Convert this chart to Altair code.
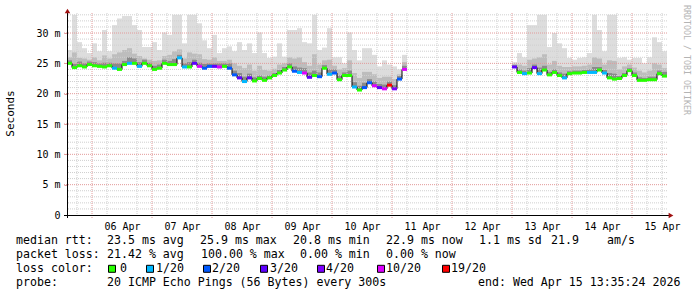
import json
import altair as alt
import pandas as pd

# ---------------- data (2-hour bins, hours since 05 Apr 00:00) ----------------
T0 = 14          # first bin starts 05 Apr 14:00
BIN = 2          # hours per bin
GAP = 21         # bins without data (11 Apr 06:00 -> 13 Apr 00:00)

median_seg1 = [25.0, 24.3, 24.6, 24.4, 24.8, 24.6, 24.5, 24.4, 24.6, 24.2,
               24.0, 24.8, 25.0, 25.0, 24.5, 25.0, 24.6, 24.0, 24.2, 25.0,
               24.8, 24.8, 25.9, 24.4, 24.4, 25.0, 24.5, 24.2, 24.5, 24.5,
               24.4, 24.5, 24.2, 23.1, 22.6, 22.0, 22.6, 22.1, 22.5, 22.2,
               22.6, 23.0, 23.4, 23.9, 24.4, 23.7, 23.5, 23.4, 22.7, 23.0,
               22.8, 24.2, 23.2, 23.4, 22.3, 23.0, 23.0, 21.1, 20.6, 21.0,
               21.8, 21.3, 21.0, 20.8, 21.4, 20.8, 22.4, 24.0]
median_seg2 = [24.4, 23.5, 23.3, 23.4, 24.3, 23.3, 23.9, 23.1, 23.5, 23.0,
               22.6, 23.3, 23.4, 23.4, 23.5, 23.5, 23.5, 23.9, 23.4, 22.6,
               22.4, 22.5, 23.0, 23.8, 23.0, 22.2, 22.2, 22.3, 22.3, 23.3, 22.9]

max_seg1 = [27.2, 33.0, 28.5, 27.5, 26.7, 28.3, 27.0, 30.5, 27.0, 31.3,
            32.4, 32.8, 32.8, 31.3, 30.5, 27.7, 27.7, 28.5, 27.2, 30.1,
            29.7, 33.0, 33.0, 28.3, 33.0, 33.0, 31.6, 28.8, 27.5, 29.7,
            26.7, 27.5, 27.8, 27.0, 28.5, 27.2, 28.3, 26.7, 30.1, 26.7,
            25.9, 26.1, 28.3, 26.1, 30.5, 30.5, 30.8, 28.5, 28.3, 33.0,
            27.2, 27.6, 30.8, 26.0, 26.0, 25.0, 30.1, 27.2, 25.5, 27.5,
            27.5, 26.4, 24.5, 25.5, 24.8, 24.5, 24.0, 26.4]
max_seg2 = [25.2, 26.7, 26.0, 31.3, 31.3, 33.0, 33.0, 27.7, 30.0, 28.3,
            27.5, 25.9, 25.6, 25.9, 26.0, 26.7, 33.0, 30.5, 27.0, 33.0,
            33.0, 25.9, 26.0, 25.6, 25.9, 25.9, 25.0, 26.0, 29.3, 28.5, 27.0]

p75_seg1 = [26.0, 26.8, 25.9, 25.8, 25.6, 26.0, 25.5, 26.3, 25.8, 26.5,
            26.8, 27.2, 27.5, 26.6, 26.2, 25.8, 25.6, 25.4, 25.5, 26.2,
            26.4, 27.0, 27.3, 25.8, 26.8, 26.6, 26.5, 25.7, 25.6, 26.0,
            25.4, 25.4, 25.6, 25.0, 24.6, 24.2, 24.8, 23.8, 24.6, 23.9,
            23.8, 24.1, 24.8, 25.0, 26.0, 25.8, 26.0, 25.2, 24.6, 26.5,
            24.8, 25.5, 25.6, 24.6, 24.0, 24.2, 25.5, 23.4, 22.6, 23.6,
            23.6, 23.2, 22.6, 22.8, 22.8, 22.4, 23.2, 25.2]
p75_seg2 = [24.9, 24.8, 24.6, 25.6, 25.8, 26.0, 26.5, 24.8, 25.4, 24.6,
            24.4, 24.4, 24.5, 24.5, 24.6, 24.8, 26.0, 25.8, 24.8, 25.5,
            25.4, 24.0, 24.5, 24.8, 24.3, 23.8, 23.5, 23.8, 25.0, 24.8, 24.2]

p55_seg1 = [25.5, 24.9, 25.3, 25.0, 25.3, 25.2, 25.0, 25.1, 25.1, 25.0,
            25.0, 25.4, 26.0, 25.8, 25.2, 25.6, 25.1, 24.6, 24.8, 25.6,
            25.4, 25.7, 26.4, 25.0, 25.2, 25.6, 25.1, 24.9, 25.0, 25.0,
            25.0, 25.0, 25.0, 23.8, 23.4, 22.8, 23.3, 22.7, 23.0, 22.8,
            23.0, 23.4, 23.9, 24.4, 25.0, 24.5, 24.3, 24.2, 23.5, 23.8,
            23.5, 24.7, 24.0, 24.0, 23.0, 23.5, 23.8, 21.9, 21.3, 21.8,
            22.4, 22.0, 21.6, 21.5, 22.0, 21.4, 22.9, 24.6]
p55_seg2 = [24.7, 24.0, 23.8, 24.2, 24.8, 24.3, 24.6, 23.6, 24.0, 23.5,
            23.3, 23.7, 23.8, 23.8, 23.9, 24.0, 24.4, 24.4, 23.9, 23.4,
            23.3, 22.9, 23.4, 24.2, 23.5, 22.7, 22.6, 22.8, 22.8, 23.8, 23.6]

loss_seg1 = [0, 0, 0, 0, 0, 0, 0, 0, 0, 1,
             0, 0, 1, 0, 1, 0, 0, 0, 0, 0,
             0, 0, 1, 1, 0, 3, 10, 2, 2, 3,
             10, 0, 2, 2, 3, 1, 3, 0, 0, 0,
             0, 0, 0, 0, 0, 2, 1, 10, 3, 0,
             2, 0, 1, 2, 0, 0, 0, 1, 0, 2,
             2, 10, 3, 10, 19, 4, 2, 10]
loss_seg2 = [3, 0, 1, 0, 3, 1, 0, 0, 0, 0,
             1, 0, 0, 0, 0, 1, 1, 0, 1, 0,
             0, 0, 0, 0, 0, 0, 0, 0, 0, 0, 0]

loss_labels = ["0", "1/20", "2/20", "3/20", "4/20", "10/20", "19/20"]
loss_colors = ["#26ff00", "#00b8ff", "#0059ff", "#5e00ff", "#7e00ff", "#dd00ff", "#ff0000"]

day_labels = ["06 Apr", "07 Apr", "08 Apr", "09 Apr", "10 Apr",
              "11 Apr", "12 Apr", "13 Apr", "14 Apr", "15 Apr"]
day_noon_hours = [36, 60, 84, 108, 132, 156, 180, 204, 228, 252]
midnight_hours = [24, 48, 72, 96, 120, 144, 168, 192, 216, 240]
six_hour_marks = [18, 30, 42, 54, 66, 78, 90, 102, 114, 126, 138, 150, 162, 174,
                  186, 198, 210, 222, 234, 246, 252]
y_major = [5, 10, 15, 20, 25, 30]
y_minor = [1, 2, 3, 4, 6, 7, 8, 9, 11, 12, 13, 14, 16, 17, 18, 19, 21, 22, 23, 24,
           26, 27, 28, 29, 31, 32, 33]
y_tick_values = [0, 5, 10, 15, 20, 25, 30]

# legend pieces: (text, left x in page pixels)
legend_rows = [
    [("median rtt:", 16), ("23.5 ms avg", 107), ("25.9 ms max", 200), ("20.8 ms min", 293),
     ("22.9 ms now", 386), ("1.1 ms sd", 479), ("21.9", 551), ("am/s", 607)],
    [("packet loss:", 16), ("21.42 % avg", 107), ("100.00 % max", 201), ("0.00 % min", 300),
     ("0.00 % now", 386)],
    [("loss color:", 16)],
    [("probe:", 16), ("20 ICMP Echo Pings (56 Bytes) every 300s", 107),
     ("end: Wed Apr 15 13:35:24 2026", 478)],
]
loss_text_x = [120, 156, 212, 270, 326, 386, 451]
loss_swatch_x = [108, 146, 203, 260, 317, 377, 442]
y_title = "Seconds"
watermark = "RRDTOOL / TOBI OETIKER"

# ---------------- build table ----------------
median = median_seg1 + [None] * GAP + median_seg2
mx = max_seg1 + [None] * GAP + max_seg2
p75 = p75_seg1 + [None] * GAP + p75_seg2
p55 = p55_seg1 + [None] * GAP + p55_seg2
loss = loss_seg1 + [None] * GAP + loss_seg2

rows = []
for i, m in enumerate(median):
    if m is None:
        continue
    prev = median[i - 1] if i > 0 else None
    n = loss[i]
    rows.append(dict(t=T0 + BIN * i, t2=T0 + BIN * (i + 1), med=m, mx=mx[i],
                     p75=p75[i], p55=p55[i], prev=prev,
                     loss="0" if n == 0 else f"{n}/20"))
df = pd.DataFrame(rows)
df_conn = df[df["prev"].notna()]

MONO = "DejaVu Sans Mono"
XS = alt.Scale(domain=[14, 254], nice=False, zero=False)
YS = alt.Scale(domain=[0, 33.3], nice=False, zero=True)
NB = "\u00a0"

X_AXIS = alt.Axis(values=day_noon_hours,
                  labelExpr=f"{json.dumps(day_labels)}[floor(datum.value/24) - 1]",
                  grid=False, ticks=False, domain=False, title=None, labelFont=MONO,
                  labelFontSize=10, labelColor="#000000", labelPadding=6, labelFlush=False,
                  labelOverlap=False)
Y_AXIS = alt.Axis(values=y_tick_values,
                  labelExpr=f"datum.value == 0 ? '0{NB}{NB}' : datum.value + '{NB}m'",
                  grid=False, ticks=True, tickSize=3, tickColor="#e29a9a", domain=False,
                  title=None, labelFont=MONO, labelFontSize=10, labelColor="#000000",
                  labelPadding=4, labelFlush=False, labelOverlap=False)


def X(f):
    return alt.X(f, scale=XS, axis=X_AXIS)


def Y(f):
    return alt.Y(f, scale=YS, axis=Y_AXIS)


one = pd.DataFrame({"a": [0]})

light = alt.Chart(df).mark_rect(color="#dddddd").encode(
    x=X("t:Q"), x2="t2:Q", y=Y("mx:Q"), y2="med:Q")
mid = alt.Chart(df).mark_rect(color="#bdbdbd").encode(
    x=X("t:Q"), x2="t2:Q", y=Y("p75:Q"), y2="med:Q")
dark = alt.Chart(df).mark_rect(color="#8a8a8a").encode(
    x=X("t:Q"), x2="t2:Q", y=Y("p55:Q"), y2="med:Q")

grid_minor_y = alt.Chart(pd.DataFrame({"t": [14, 14], "v": [0, 0]})).mark_point(opacity=0).encode(
    x=X("t:Q"), y=Y("v:Q"))  # anchor layer carrying axes for both scales

g_minor_y = alt.Chart(pd.DataFrame({"v": y_minor})).mark_rule(
    color="#cfcfcf", strokeDash=[1, 1], strokeWidth=1).encode(y=Y("v:Q"))
g_minor_x = alt.Chart(pd.DataFrame({"h": six_hour_marks})).mark_rule(
    color="#cfcfcf", strokeDash=[1, 1], strokeWidth=1).encode(x=X("h:Q"))
g_major_y = alt.Chart(pd.DataFrame({"v": y_major})).mark_rule(
    color="#e29a9a", strokeDash=[1, 1], strokeWidth=1).encode(
    y=Y("v:Q"), x=alt.value(-3), x2=alt.value(600))
g_major_x = alt.Chart(pd.DataFrame({"h": midnight_hours})).mark_rule(
    color="#e29a9a", strokeDash=[1, 1], strokeWidth=1).encode(
    x=X("h:Q"), y=alt.value(0), y2=alt.value(205))

conn = alt.Chart(df_conn).mark_rule(color="#000000", strokeWidth=1).encode(
    x=X("t:Q"), y=Y("prev:Q"), y2="med:Q")
medline = alt.Chart(df).mark_rule(strokeWidth=3, strokeCap="butt").encode(
    x=X("t:Q"), x2="t2:Q", y=Y("med:Q"),
    color=alt.Color("loss:N", scale=alt.Scale(domain=loss_labels, range=loss_colors), legend=None))

x_line = alt.Chart(one).mark_rule(color="#000000", strokeWidth=1).encode(
    x=alt.value(-3), x2=alt.value(603), y=alt.value(202.5))
y_line = alt.Chart(one).mark_rule(color="#000000", strokeWidth=1).encode(
    x=alt.value(0.5), y=alt.value(-3), y2=alt.value(205))
arrow_up = alt.Chart(one).mark_point(shape="triangle-up", filled=True, color="#a01010",
                                     size=30, opacity=1).encode(x=alt.value(0.5), y=alt.value(-2))
arrow_right = alt.Chart(one).mark_point(shape="triangle-right", filled=True, color="#a01010",
                                        size=30, opacity=1).encode(x=alt.value(604), y=alt.value(202.5))

OX, OY = 67, 13
BASE0 = 244.3
FS = 11.6
texts = []
for k, row in enumerate(legend_rows):
    for txt, px in row:
        texts.append(alt.Chart(one).mark_text(font=MONO, fontSize=FS, align="left",
                                              baseline="alphabetic", color="#000000").encode(
            x=alt.value(px - OX), y=alt.value(BASE0 + 14 * k - OY),
            text=alt.value(txt.replace(" ", NB))))

sw_layers = []
base3 = BASE0 + 14 * 2 - OY
for lab, c, tx, sx in zip(loss_labels, loss_colors, loss_text_x, loss_swatch_x):
    sw_layers.append(alt.Chart(one).mark_rect(fill=c, stroke="#000000", strokeWidth=1).encode(
        x=alt.value(sx + 0.5 - OX), x2=alt.value(sx + 7.5 - OX),
        y=alt.value(base3 - 7), y2=alt.value(base3)))
    texts.append(alt.Chart(one).mark_text(font=MONO, fontSize=FS, align="left",
                                          baseline="alphabetic", color="#000000").encode(
        x=alt.value(tx - OX), y=alt.value(base3), text=alt.value(lab)))

ytitle = alt.Chart(one).mark_text(font=MONO, fontSize=11, angle=270, align="center",
                                  baseline="middle", color="#000000").encode(
    x=alt.value(11 - OX), y=alt.value(113.5 - OY), text=alt.value(y_title))
wmark = alt.Chart(one).mark_text(font=MONO, fontSize=8.3, angle=90, align="left",
                                 baseline="middle", color="#b4b4b4").encode(
    x=alt.value(686 - OX), y=alt.value(5 - OY), text=alt.value(watermark.replace(" ", NB)))

chart = alt.layer(
    grid_minor_y, light, mid, dark,
    g_minor_y, g_minor_x, g_major_y, g_major_x,
    conn, medline,
    x_line, y_line, arrow_up, arrow_right,
    ytitle, wmark, *texts, *sw_layers,
).properties(
    width=600, height=202,
    autosize=alt.AutoSizeParams(type="none"),
    padding={"left": 67, "top": 13, "right": 30, "bottom": 82},
    background="#ffffff",
).configure_view(stroke=None)

chart.save("out.html", embed_options={"renderer": "svg", "actions": False})
